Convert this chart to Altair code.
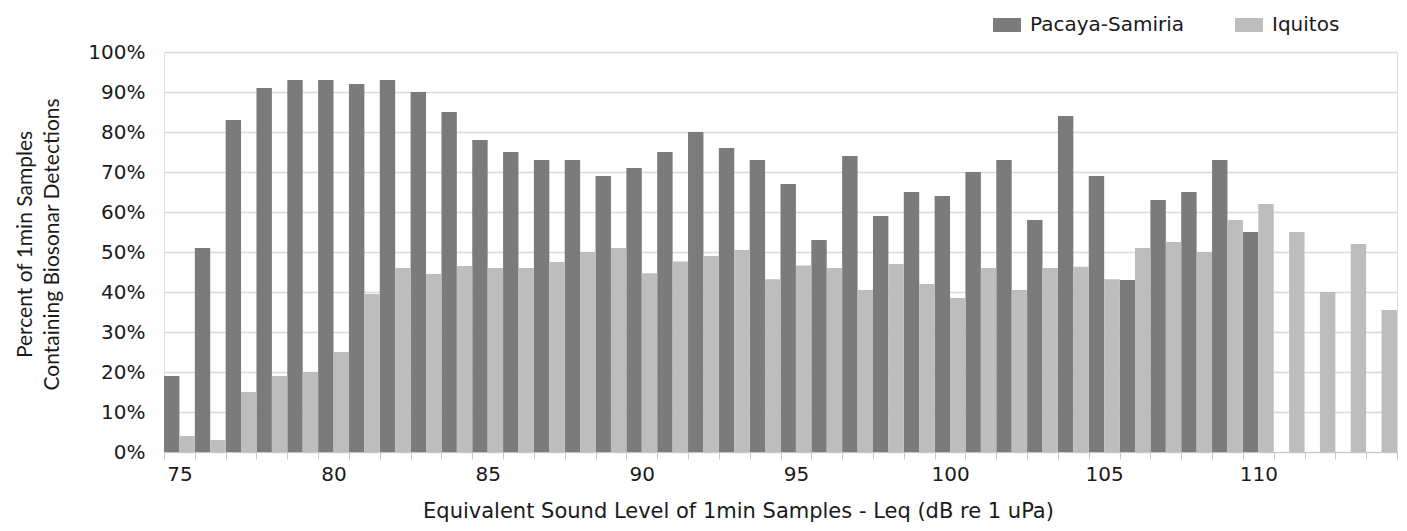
import altair as alt
import pandas as pd

levels = list(range(75, 115))
sites = ["Pacaya-Samiria", "Iquitos"]
pacaya = [19, 51, 83, 91, 93, 93, 92, 93, 90, 85, 78, 75, 73, 73, 69, 71, 75, 80, 76, 73,
          67, 53, 74, 59, 65, 64, 70, 73, 58, 84, 69, 43, 63, 65, 73, 55]
iquitos = [4, 3, 15, 19, 20, 25, 39.5, 46, 44.5, 46.5, 46, 46, 47.5, 50, 51, 44.7, 47.6, 49, 50.5, 43.2,
           46.6, 46, 40.5, 47, 42, 38.5, 46, 40.5, 46, 46.3, 43.2, 51, 52.5, 50, 58, 62, 55, 40, 52, 35.5]
y_ticks = [0, 0.1, 0.2, 0.3, 0.4, 0.5, 0.6, 0.7, 0.8, 0.9, 1.0]
colors = ["#7b7b7b", "#bdbdbd"]

rows = []
for lv, v in zip(levels, pacaya):
    rows.append({"level": lv, "site": sites[0], "pct": v / 100})
for lv, v in zip(levels, iquitos):
    rows.append({"level": lv, "site": sites[1], "pct": v / 100})
df = pd.DataFrame(rows)

FONT = "DejaVu Sans"
TXT = "#1a1a1a"

chart = alt.Chart(df).mark_bar().encode(
    x=alt.X(
        "level:O",
        sort=levels,
        scale=alt.Scale(domain=levels, paddingInner=0, paddingOuter=0),
        axis=alt.Axis(
            title="Equivalent Sound Level of 1min Samples - Leq (dB re 1 uPa)",
            labelExpr="datum.value % 5 == 0 ? datum.label : ''",
            labelAngle=0,
            labelOverlap=False,
            tickBand="extent",
            tickSize=7,
            tickColor="#c8c8c8",
            domainColor="#c8c8c8",
            labelPadding=5,
            labelFont=FONT,
            labelFontSize=20,
            labelColor=TXT,
            titleFont=FONT,
            titleFontSize=21,
            titleFontWeight="normal",
            titleColor=TXT,
            titleX=574,
            titleY=65,
            titleAlign="center",
            titleBaseline="alphabetic",
            grid=False,
        ),
    ),
    xOffset=alt.XOffset("site:N", sort=sites,
                        scale=alt.Scale(domain=sites, paddingInner=0, paddingOuter=0)),
    y=alt.Y(
        "pct:Q",
        scale=alt.Scale(domain=[0, 1]),
        axis=alt.Axis(
            values=y_ticks,
            format=".0%",
            title=["Percent of 1min Samples", "Containing Biosonar Detections"],
            titleFont="Lato",
            titleFontSize=21,
            titleFontWeight="normal",
            titleColor=TXT,
            titleAngle=270,
            titleAlign="center",
            titleBaseline="middle",
            titleLineHeight=27,
            titleX=-139,
            titleY=192,
            labelFont=FONT,
            labelFontSize=20,
            labelColor=TXT,
            labelPadding=19,
            ticks=False,
            domain=False,
            grid=True,
            gridColor="#d9d9d9",
            gridWidth=1.3,
        ),
    ),
    color=alt.Color(
        "site:N",
        sort=sites,
        scale=alt.Scale(domain=sites, range=colors),
        legend=alt.Legend(
            title=None,
            orient="none",
            legendX=829,
            legendY=-41,
            direction="horizontal",
            symbolType="M-1,-0.5L1,-0.5L1,0.5L-1,0.5Z",
            symbolSize=784,
            symbolStrokeWidth=0,
            labelFont=FONT,
            labelFontSize=20,
            labelColor=TXT,
            labelOffset=9,
            columnPadding=50,
            padding=0,
        ),
    ),
).properties(
    width=1233,
    height=400,
    autosize=alt.AutoSizeParams(type="none"),
    padding={"left": 156, "top": 44, "right": 2, "bottom": 71},
).configure_view(stroke=None).configure(background="white")

chart.save("out.html", embed_options={"renderer": "svg", "actions": False})
